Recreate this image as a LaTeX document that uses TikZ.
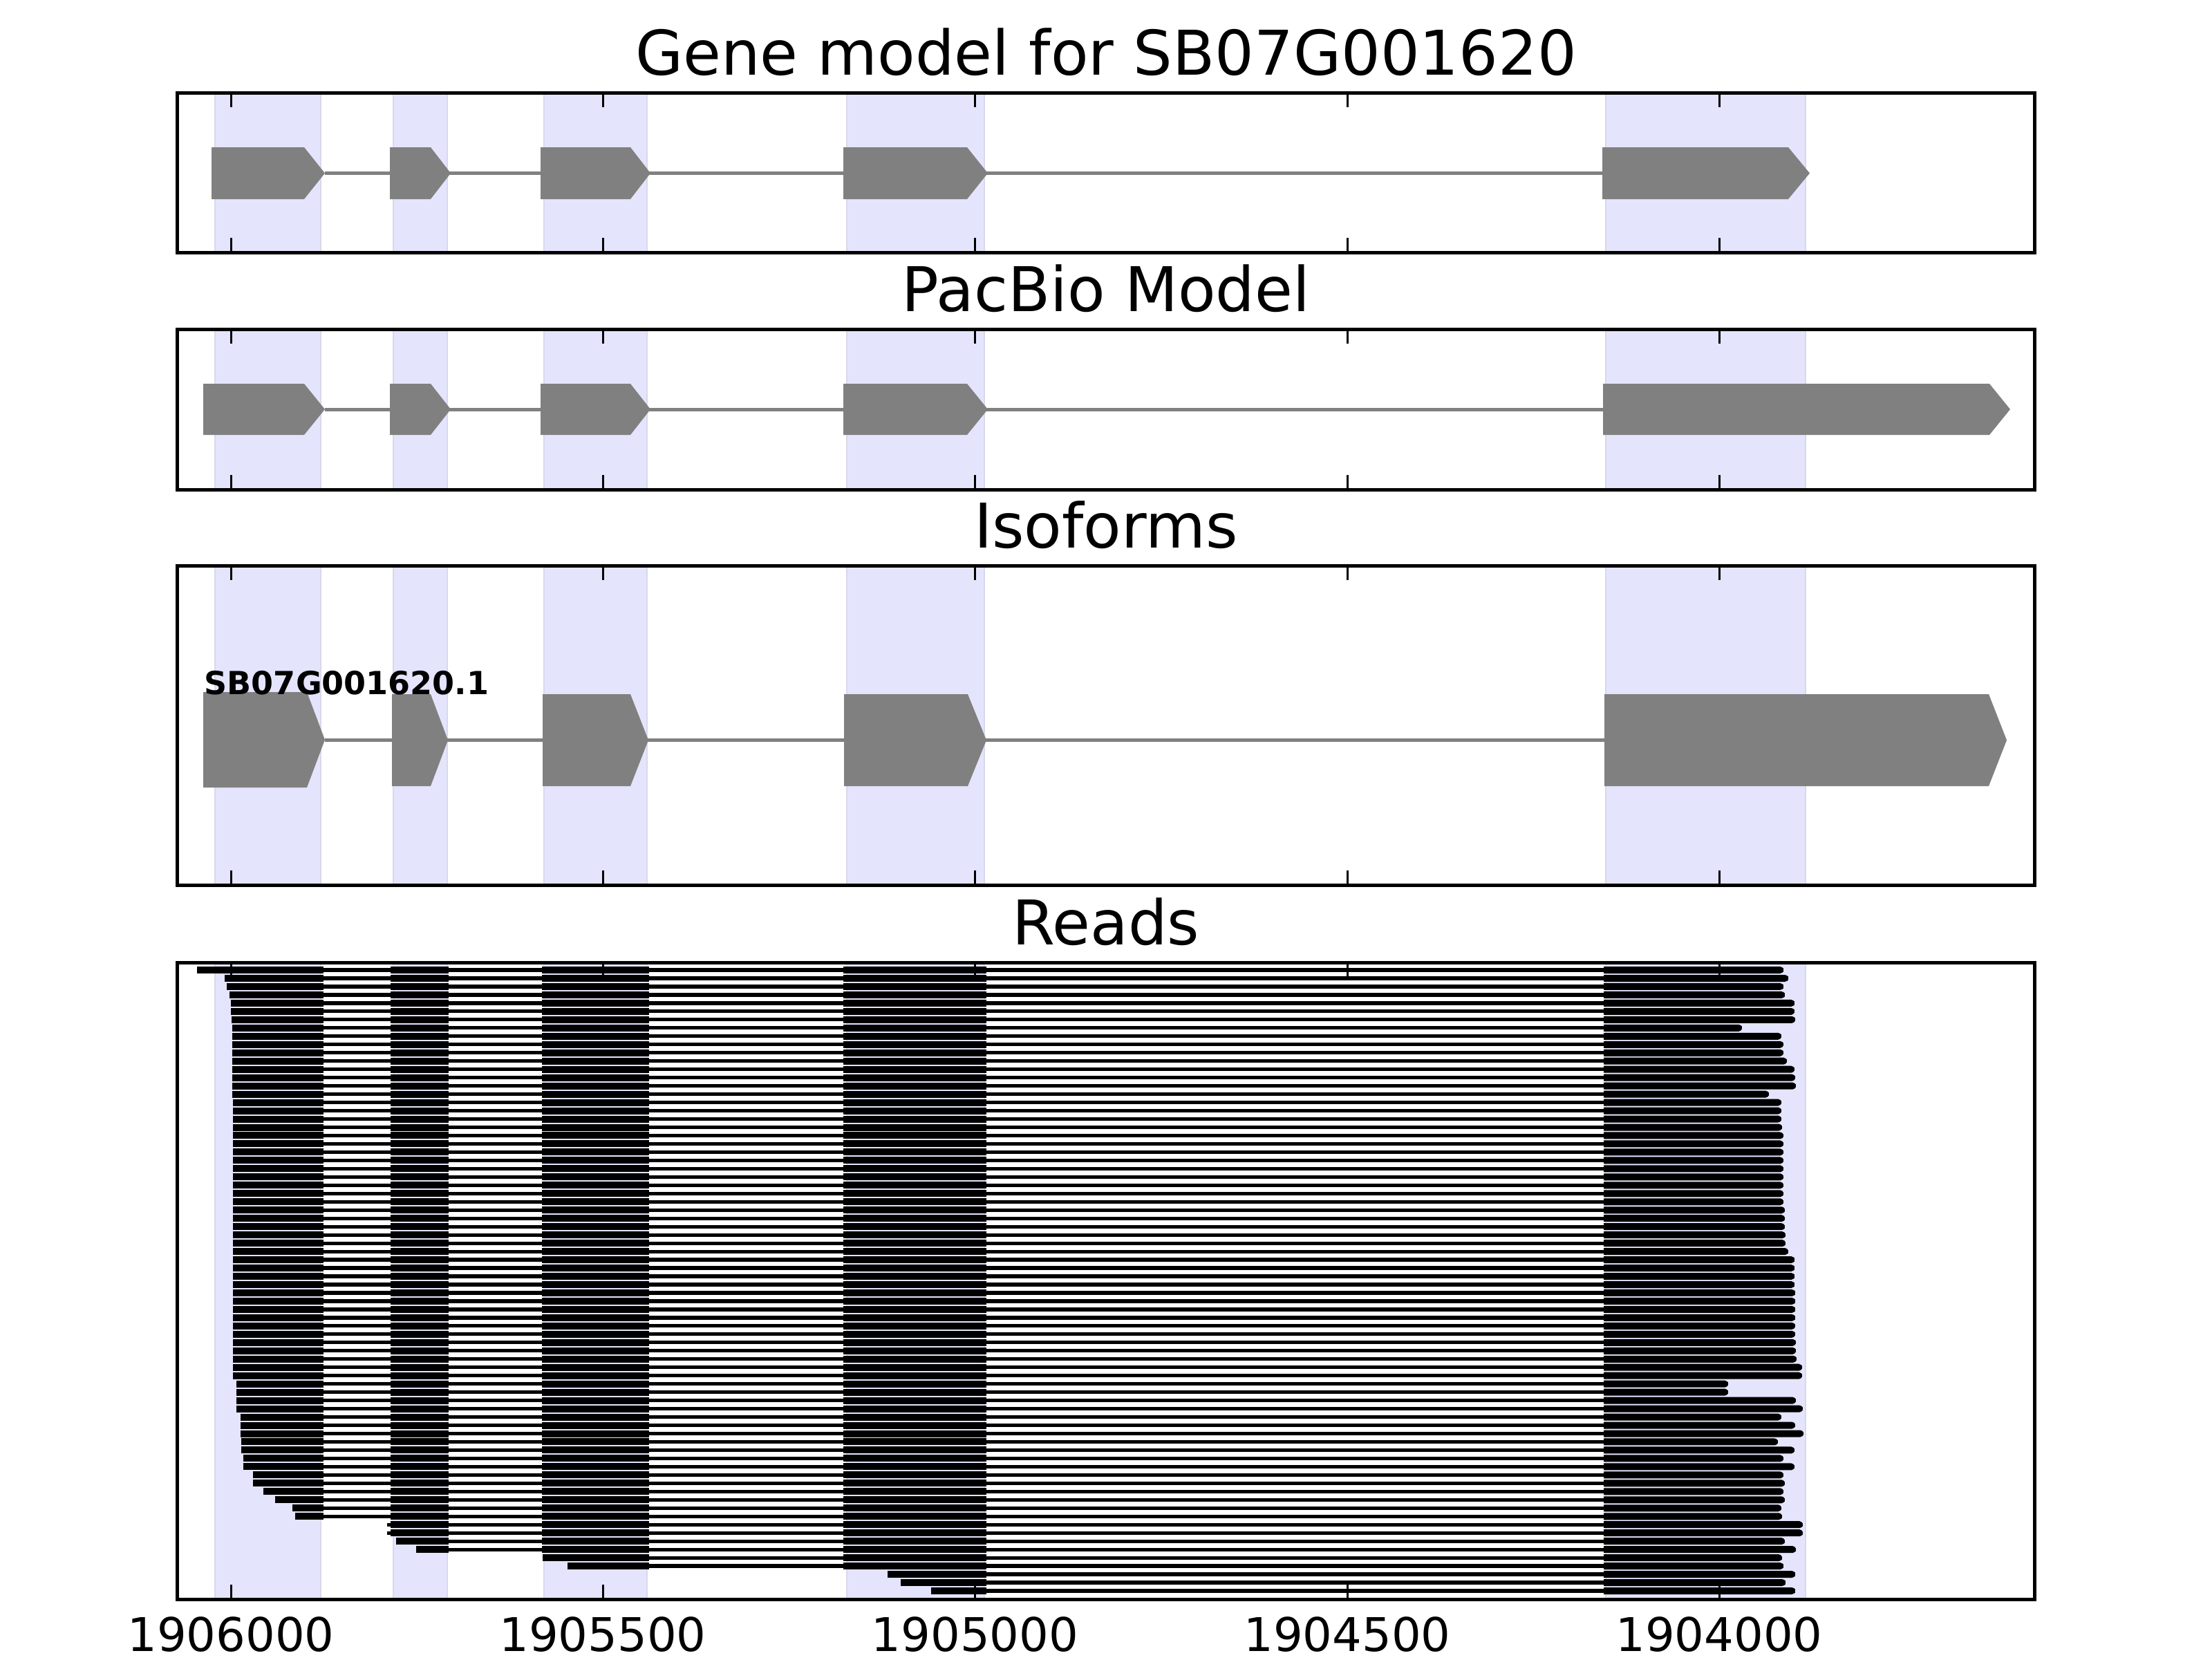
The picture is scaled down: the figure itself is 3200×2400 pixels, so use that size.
\documentclass[tikz,border=0pt]{standalone}
\usepackage{fontspec}
\setmainfont{DejaVu Sans}
\definecolor{spanfill}{RGB}{228,228,252}
\definecolor{spanedge}{RGB}{216,216,236}
\definecolor{exongray}{RGB}{128,128,128}
\newcommand\myexon[5]{%
  \fill[exonfill] (#1,#4-#5) -- (#2,#4-#5) -- (#3,#4) -- (#2,#4+#5) -- (#1,#4+#5) -- cycle;}
\newcommand\myreadrow[3]{%
  \pgfmathsetmacro\ry{1403+(#1-1)*11.973}%
  \draw[readintron] (#2,\ry) -- (#3,\ry);%
  \ifdim #2pt<468pt \fill[readexon] (#2,\ry-5) rectangle (468,\ry+5);\fi
  \ifdim #2pt<649pt \pgfmathsetmacro\bs{max(#2,565)}\fill[readexon] (\bs,\ry-5) rectangle (649,\ry+5);\fi
  \ifdim #2pt<939pt \pgfmathsetmacro\cs{max(#2,784)}\fill[readexon] (\cs,\ry-5) rectangle (939,\ry+5);\fi
  \pgfmathsetmacro\ds{max(#2,1220)}\fill[readexon] (\ds,\ry-5) rectangle (1427,\ry+5);
  \fill[readexon] (2320,\ry-5) [rounded corners=1.2pt] -- (#3,\ry-5) -- (#3,\ry+5) [sharp corners] -- (2320,\ry+5) -- cycle;
}
\begin{document}
\begin{tikzpicture}[x=0.25pt,y=-0.25pt,
  exonspan/.style={fill=spanfill,draw=spanedge,line width=0.5pt},
  exonfill/.style={fill=exongray},
  intronline/.style={draw=exongray,line width=1.25pt},
  readexon/.style={fill=black},
  readintron/.style={draw=black,line width=1.3pt},
  frame/.style={draw=black,line width=1.25pt},
  tickmark/.style={draw=black,line width=0.75pt},
  titletext/.style={font=\fontsize{22.3pt}{26pt}\selectfont,anchor=base,inner sep=0pt},
  ticktext/.style={font=\fontsize{16.8pt}{20pt}\selectfont,anchor=base,inner sep=0pt}]
\useasboundingbox (0,0) rectangle (3200,2400);
\fill[white] (0,0) rectangle (3200,2400);
% exon spans in every panel
\foreach \t/\b in {134/365,476/708,818/1280,1392/2313}{
  \foreach \a/\c in {311/464,569/647,787/936,1225/1424,2323/2612}{
    \filldraw[exonspan] (\a,\t) rectangle (\c,\b);
  }
}
% Gene model
\draw[intronline] (470,250.5) -- (2318,250.5);
\myexon{306}{440}{470}{250.5}{37.5}
\myexon{564}{623}{652}{250.5}{37.5}
\myexon{782}{912}{941}{250.5}{37.5}
\myexon{1220}{1399}{1429}{250.5}{37.5}
\myexon{2318}{2587}{2618}{250.5}{37.5}
% PacBio model
\draw[intronline] (470,592) -- (2319,592);
\myexon{294}{440}{470}{592}{37}
\myexon{564}{623}{652}{592}{37}
\myexon{782}{912}{941}{592}{37}
\myexon{1220}{1399}{1429}{592}{37}
\myexon{2319}{2878}{2908}{592}{37}
% Isoforms
\draw[intronline] (470,1070) -- (2321,1070);
\myexon{294}{444}{470}{1070}{69}
\myexon{567}{623}{648}{1070.5}{66.5}
\myexon{785}{912}{938}{1070.5}{66.5}
\myexon{1221}{1400}{1427}{1070.5}{66.5}
\myexon{2321}{2877}{2903}{1070.5}{66.5}
\node[anchor=base west,inner sep=0pt,font=\bfseries\fontsize{11.5pt}{14pt}\selectfont] (isolabel) at (295,1004) {SB07G001620.1};
% Reads
\foreach \i/\s/\e in {1/285/2580, 2/325/2587, 3/328/2580, 4/332/2582, 5/334/2596, 6/334/2596, 7/335/2597, 8/336/2520, 9/336/2577, 10/336/2580, 11/336/2580, 12/336/2585, 13/336/2596, 14/336/2597, 15/336/2598, 16/336/2559, 17/337/2577, 18/337/2577, 19/337/2577, 20/337/2578, 21/337/2580, 22/337/2580, 23/337/2580, 24/337/2580, 25/337/2580, 26/337/2580, 27/337/2580, 28/337/2580, 29/337/2580, 30/337/2582, 31/337/2582, 32/337/2582, 33/337/2583, 34/337/2583, 35/337/2587, 36/337/2596, 37/337/2596, 38/337/2596, 39/337/2596, 40/337/2597, 41/337/2597, 42/337/2597, 43/337/2597, 44/337/2597, 45/337/2597, 46/337/2598, 47/337/2598, 48/337/2599, 49/337/2607, 50/337/2607, 51/342/2500, 52/342/2500, 53/342/2598, 54/342/2608, 55/348/2577, 56/348/2597, 57/348/2609, 58/349/2572, 59/349/2596, 60/352/2580, 61/352/2596, 62/366/2580, 63/366/2582, 64/381/2580, 65/398/2582, 66/423/2577, 67/427/2578, 68/560/2608, 69/560/2608, 70/573/2582, 71/602/2598, 72/785/2578, 73/821/2580, 74/1284/2597, 75/1303/2583, 76/1347/2597}{
  \myreadrow{\i}{\s}{\e}
}
% frames and ticks
\foreach \t/\b in {134/365,476/708,818/1280,1392/2313}{
  \foreach \x in {334,872,1410.5,1949,2487}{
    \draw[tickmark] (\x,\t) -- (\x,\t+21);
    \draw[tickmark] (\x,\b) -- (\x,\b-21);
  }
  \draw[frame] (256,\t) rectangle (2943,\b);
}
% titles
\node[titletext] (title1) at (1600,108) {Gene model for SB07G001620};
\node[titletext] (title2) at (1600,450) {PacBio Model};
\node[titletext] (title3) at (1600,792) {Isoforms};
\node[titletext] (title4) at (1600,1366) {Reads};
% tick labels
\node[ticktext] (lab1) at (334,2388) {1906000};
\node[ticktext] (lab2) at (872,2388) {1905500};
\node[ticktext] (lab3) at (1410.5,2388) {1905000};
\node[ticktext] (lab4) at (1949,2388) {1904500};
\node[ticktext] (lab5) at (2487,2388) {1904000};
\end{tikzpicture}
\end{document}
